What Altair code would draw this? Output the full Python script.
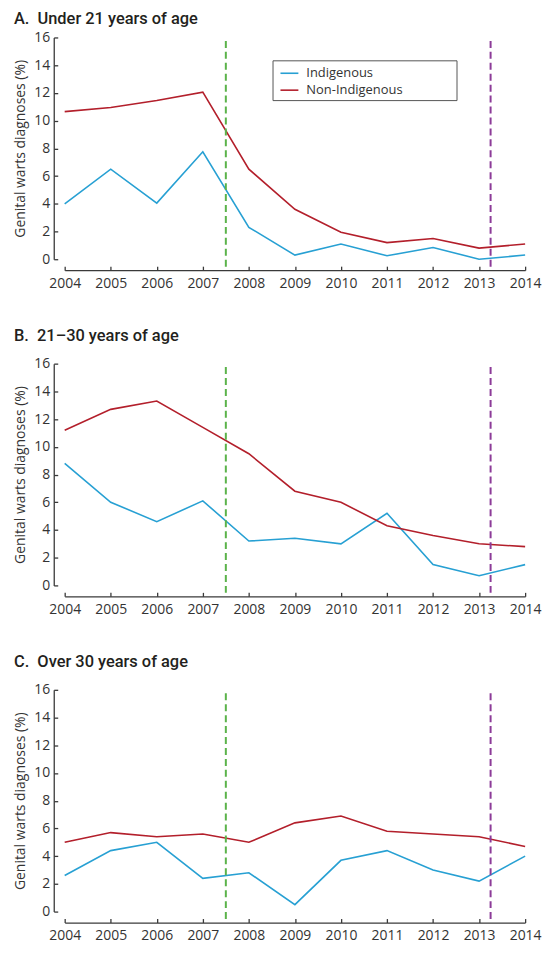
import altair as alt
import pandas as pd

# ---------------- data ----------------
years = list(range(2004, 2015))
groups = ["Indigenous", "Non-Indigenous"]
panel_titles = [
    "A.\u00a0\u00a0Under 21 years of age",
    "B.\u00a0\u00a021\u201330 years of age",
    "C.\u00a0\u00a0Over 30 years of age",
]
under21_indigenous = [4.0, 6.5, 4.05, 7.75, 2.3, 0.3, 1.1, 0.25, 0.85, 0.0, 0.3]
under21_non_indigenous = [10.65, 10.95, 11.45, 12.05, 6.5, 3.6, 1.95, 1.2, 1.5, 0.8, 1.1]
age21_30_indigenous = [8.8, 6.0, 4.6, 6.1, 3.2, 3.4, 3.0, 5.2, 1.5, 0.7, 1.5]
age21_30_non_indigenous = [11.2, 12.7, 13.3, 11.4, 9.5, 6.8, 6.0, 4.3, 3.6, 3.0, 2.8]
over30_indigenous = [2.6, 4.4, 5.0, 2.4, 2.8, 0.5, 3.7, 4.4, 3.0, 2.2, 4.0]
over30_non_indigenous = [5.0, 5.7, 5.4, 5.6, 5.0, 6.4, 6.9, 5.8, 5.6, 5.4, 4.7]
y_ticks = [0, 2, 4, 6, 8, 10, 12, 14, 16]
program_years = [2007.5, 2013.25]
program_names = ["girls", "boys"]

# ---------------- style ----------------
FONT = "Open Sans"
TITLE_FONT = "Roboto"
BLUE = "#27a0d3"
RED = "#b31f2b"
GREEN = "#5bb34a"
PURPLE = "#8c3b98"
AXIS_COLOR = "#3a3a3a"
TEXT_COLOR = "#333333"
W, H = 463, 223
OFF = 11
RULE_TOP = 15.75
RULE_BOTTOM = -OFF * 16 / H
TITLE_OFFSETS = [3, 12, 12]
LEGEND_PAD = "\u00a0" * 15 + "\u200b"

series = [
    (under21_indigenous, under21_non_indigenous),
    (age21_30_indigenous, age21_30_non_indigenous),
    (over30_indigenous, over30_non_indigenous),
]

x_scale = alt.Scale(domain=[2004, 2014], nice=False, zero=False)
y_scale = alt.Scale(domain=[0, 16], nice=False)

x_main = alt.Axis(values=years, format="d", offset=OFF, ticks=False, tickSize=0,
                  domain=True, domainColor=AXIS_COLOR, domainWidth=1.3, grid=False,
                  labels=True, labelFont=FONT, labelFontSize=14, labelColor=TEXT_COLOR,
                  labelPadding=6, labelFlush=False, labelOverlap=False, title=None, orient="bottom")
x_ticks = alt.Axis(values=years, offset=OFF - 4, ticks=True, tickSize=4, tickColor=AXIS_COLOR,
                   tickWidth=1.3, domain=False, labels=False, grid=False, title=None, orient="bottom")
y_main = alt.Axis(values=y_ticks, offset=OFF, ticks=False, tickSize=0, domain=True,
                  domainColor=AXIS_COLOR, domainWidth=1.3, grid=False, labelFont=FONT,
                  labelFontSize=14, labelColor=TEXT_COLOR, labelPadding=4, labelFlush=False,
                  title="Genital warts diagnoses (%)", titleFont=FONT, titleFontSize=14,
                  titleFontWeight="normal", titleColor=TEXT_COLOR, titlePadding=6, orient="left")
y_ticks_axis = alt.Axis(values=y_ticks, offset=OFF - 4, ticks=True, tickSize=4, tickColor=AXIS_COLOR,
                        tickWidth=1.3, domain=False, labels=False, grid=False, title=None, orient="left")

panels = []
for i, (title, (ind, non)) in enumerate(zip(panel_titles, series)):
    df = pd.DataFrame({
        "year": years * 2,
        "value": ind + non,
        "group": [groups[0]] * len(years) + [groups[1]] * len(years),
    })
    if i == 0:
        legend = alt.Legend(
            title=None, orient="none", legendX=209, legendY=23,
            symbolType="stroke", symbolSize=324, symbolStrokeWidth=1.6, symbolOffset=4,
            labelFont=FONT, labelFontSize=13, labelColor=TEXT_COLOR, labelOffset=7,
            labelExpr="datum.label + '" + LEGEND_PAD + "'", labelLimit=300,
            rowPadding=0, padding=3, strokeColor="#555555", fillColor="white",
        )
    else:
        legend = None
    lines = alt.Chart(df).mark_line(strokeWidth=1.6).encode(
        x=alt.X("year:Q", scale=x_scale, axis=x_main),
        y=alt.Y("value:Q", scale=y_scale, axis=y_main),
        color=alt.Color("group:N", scale=alt.Scale(domain=groups, range=[BLUE, RED]), legend=legend),
    )
    rdf = pd.DataFrame({"x": program_years, "prog": program_names})
    rdf["top"] = RULE_TOP
    rdf["bottom"] = RULE_BOTTOM
    rules = alt.Chart(rdf).mark_rule(strokeWidth=2, strokeDash=[7, 4]).encode(
        x=alt.X("x:Q", scale=x_scale, axis=x_ticks),
        y=alt.Y("top:Q", scale=y_scale, axis=y_ticks_axis),
        y2="bottom:Q",
        stroke=alt.Stroke("prog:N", scale=alt.Scale(domain=program_names, range=[GREEN, PURPLE]), legend=None),
    )
    panel = alt.layer(lines, rules).resolve_axis(x="independent", y="independent").properties(
        width=W, height=H,
        title=alt.TitleParams(title, anchor="start", frame="bounds", font=TITLE_FONT, fontSize=16.5,
                              fontWeight=500, color="#231f20", offset=TITLE_OFFSETS[i]),
    )
    panels.append(panel)

chart = alt.vconcat(*panels, spacing=38).resolve_scale(color="independent").configure_view(
    stroke=None
).properties(padding={"top": 0, "left": 5, "right": 5, "bottom": 5})

chart.save("out.html", embed_options={"renderer": "svg", "actions": False})
